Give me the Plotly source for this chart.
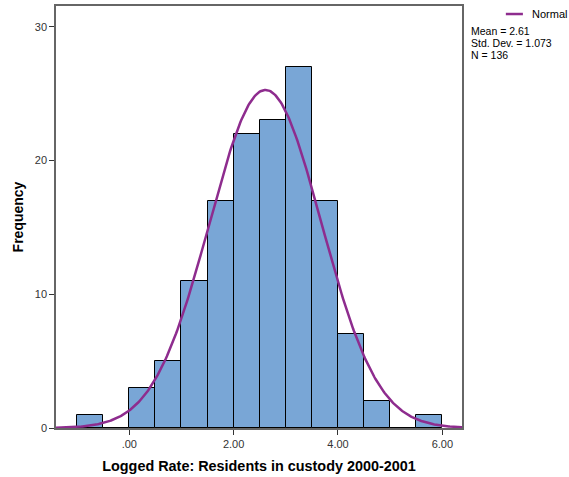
import numpy as np
import plotly.graph_objects as go

bin_left = [-1.0, -0.5, 0.0, 0.5, 1.0, 1.5, 2.0, 2.5, 3.0, 3.5, 4.0, 4.5, 5.0, 5.5]
counts   = [1, 0, 3, 5, 11, 17, 22, 23, 27, 17, 7, 2, 0, 1]
bin_width = 0.5
mean, sd, n = 2.61, 1.073, 136
x_ticks = [0, 2, 4, 6]
x_tick_labels = [".00", "2.00", "4.00", "6.00"]
y_ticks = [0, 10, 20, 30]
stats_lines = [f"Mean = {mean}", f"Std. Dev. = {sd}", f"N = {n}"]

centers = [b + bin_width / 2 for b in bin_left]
xr = [-1.405, 6.377]
xs = np.linspace(xr[0], xr[1], 400)
ys = n * bin_width / (sd * np.sqrt(2 * np.pi)) * np.exp(-0.5 * ((xs - mean) / sd) ** 2)

curve_color = "#8E2C8E"

fig = go.Figure()
fig.add_trace(go.Bar(x=centers, y=counts, width=bin_width,
                     marker=dict(color="#79A6D6", line=dict(color="#000000", width=1)),
                     showlegend=False))
fig.add_trace(go.Scatter(x=xs, y=ys, mode="lines", name="Normal",
                         line=dict(color=curve_color, width=2.5), showlegend=False))

annotations = [dict(xref="paper", yref="paper", x=1.1675, y=0.981, xanchor="left", yanchor="middle",
                    showarrow=False, text="Normal", font=dict(size=11, color="#000000"))]
for i, t in enumerate(stats_lines):
    annotations.append(dict(xref="paper", yref="paper", x=1.0165, y=0.9408 - i * 0.0284,
                            xanchor="left", yanchor="middle", showarrow=False, text=t,
                            font=dict(size=10.5, color="#000000")))

fig.update_layout(
    width=569, height=477,
    margin=dict(l=56, r=107, t=6, b=49, autoexpand=False),
    paper_bgcolor="white", plot_bgcolor="white",
    font=dict(family="Liberation Sans, Arial, sans-serif", size=11, color="#333333"),
    bargap=0,
    showlegend=False,
    annotations=annotations,
    shapes=[dict(type="line", xref="paper", yref="paper", x0=1.108, x1=1.150, y0=0.981, y1=0.981,
                 line=dict(color=curve_color, width=2.5))],
)
fig.update_xaxes(range=xr, showgrid=False, zeroline=False, showline=True, mirror=True,
                 linecolor="#666666", linewidth=1.5, ticks="outside", ticklen=5,
                 tickcolor="#333333", tickvals=x_ticks, ticktext=x_tick_labels,
                 tickfont=dict(size=11, color="#333333"),
                 title=dict(text="<b>Logged Rate: Residents in custody 2000-2001</b>",
                            font=dict(size=14.4, color="#000000"), standoff=12))
fig.update_yaxes(range=[0, 31.56], showgrid=False, zeroline=False, showline=True, mirror=True,
                 linecolor="#666666", linewidth=1.5, ticks="outside", ticklen=5,
                 tickcolor="#333333", tickvals=y_ticks,
                 tickfont=dict(size=11, color="#333333"),
                 title=dict(text="<b>Frequency</b>", font=dict(size=14, color="#000000"), standoff=8))

fig.write_html("out.html")
